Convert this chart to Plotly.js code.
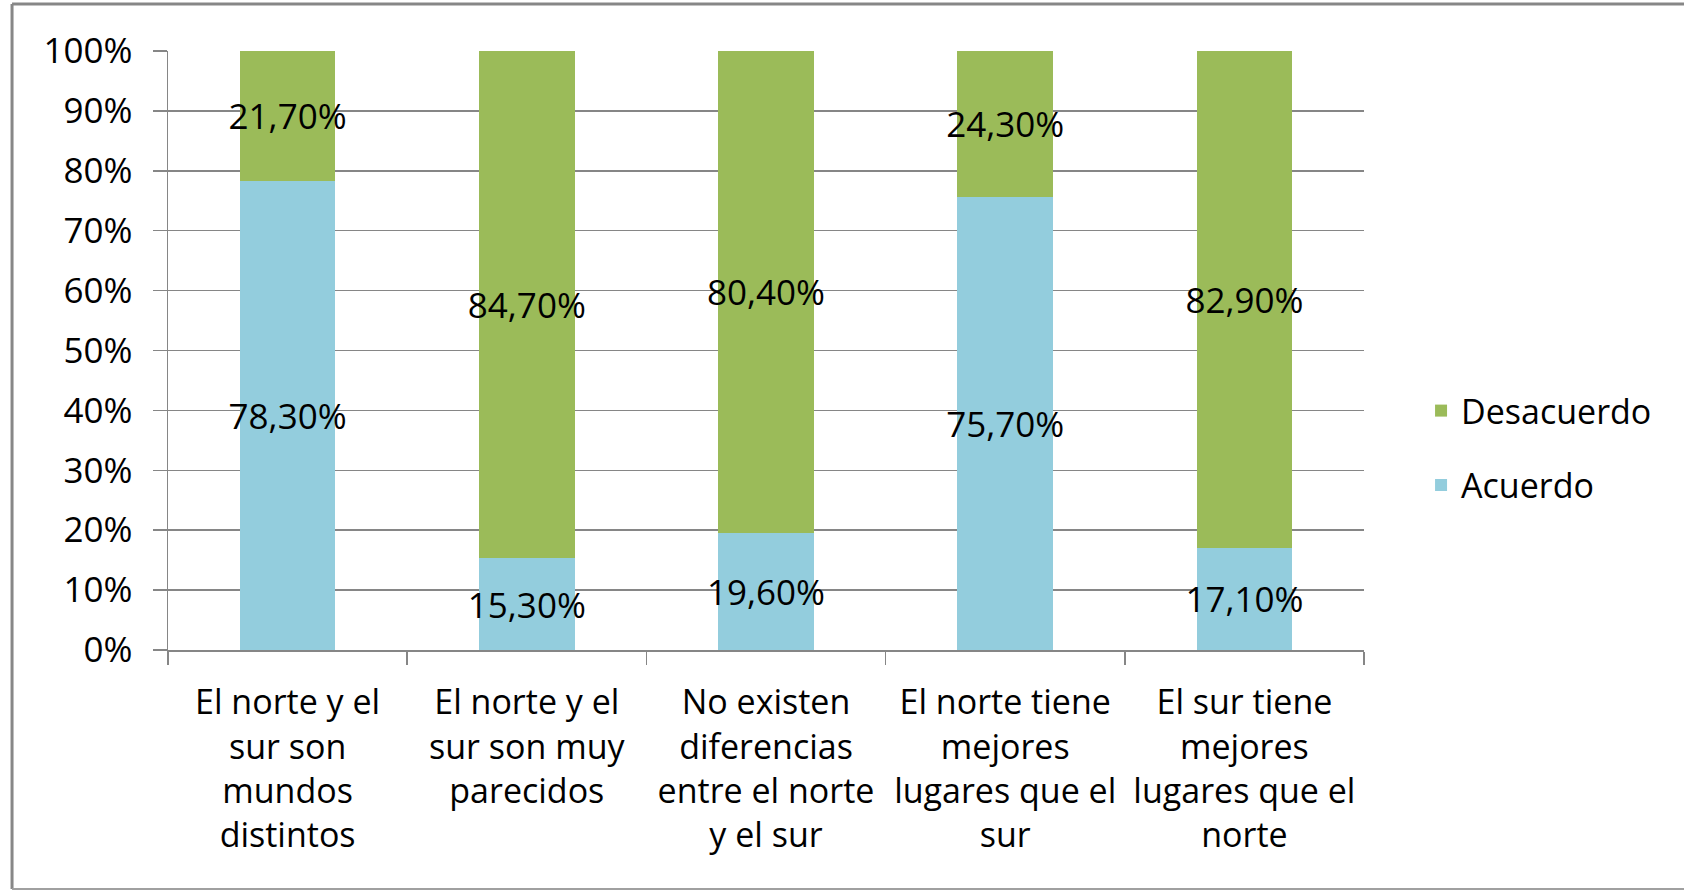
<!DOCTYPE html>
<html>
<head>
<meta charset="utf-8">
<script src="https://cdn.plot.ly/plotly-3.0.1.min.js"></script>
<style>
html,body{margin:0;padding:0;background:#fff;}
#chart{width:1684px;height:891px;}
</style>
</head>
<body>
<div id="chart"></div>
<script>
const categories = [
  "El norte y el<br>sur son<br>mundos<br>distintos",
  "El norte y el<br>sur son muy<br>parecidos",
  "No existen<br>diferencias<br>entre el norte<br>y el sur",
  "El norte tiene<br>mejores<br>lugares que el<br>sur",
  "El sur tiene<br>mejores<br>lugares que el<br>norte"
];
const acuerdo = [78.3, 15.3, 19.6, 75.7, 17.1];
const desacuerdo = [21.7, 84.7, 80.4, 24.3, 82.9];
const yTicks = [0, 10, 20, 30, 40, 50, 60, 70, 80, 90, 100];

const fmt = v => v.toFixed(2).replace('.', ',') + '%';
const FONT = '"Open Sans", "Liberation Sans", sans-serif';
const FS = 35;

const common = {
  type: 'bar',
  x: categories,
  textposition: 'inside',
  insidetextanchor: 'middle',
  constraintext: 'none',
  textangle: 0,
  textfont: {family: FONT, size: FS, color: '#000'},
  hoverinfo: 'skip'
};

const traces = [
  Object.assign({}, common, {
    name: 'Acuerdo', y: acuerdo, text: acuerdo.map(fmt),
    marker: {color: '#93CDDD'}, legend: 'legend2'
  }),
  Object.assign({}, common, {
    name: 'Desacuerdo', y: desacuerdo, text: desacuerdo.map(fmt),
    marker: {color: '#9BBB59'}, legend: 'legend'
  })
];

const layout = {
  width: 1684, height: 891,
  margin: {l: 168, r: 320, t: 51, b: 241, pad: 0},
  paper_bgcolor: '#fff', plot_bgcolor: '#fff',
  font: {family: FONT, size: FS, color: '#000'},
  barmode: 'stack',
  bargap: 0.6,
  xaxis: {
    type: 'category',
    tickson: 'boundaries',
    ticks: 'outside', ticklen: 13, tickcolor: '#868686', tickwidth: 1.5,
    ticklabelstandoff: 22,
    showline: true, linecolor: '#868686', linewidth: 1.5,
    showgrid: false, zeroline: false,
    tickfont: {family: FONT, size: 34, color: '#000'},
    fixedrange: true
  },
  yaxis: {
    range: [0, 100],
    tickvals: yTicks,
    ticktext: yTicks.map(v => v + '%'),
    ticks: 'outside', ticklen: 14, tickcolor: '#868686', tickwidth: 1.5,
    ticklabelstandoff: 13,
    showline: true, linecolor: '#868686', linewidth: 1.5,
    showgrid: true, gridcolor: '#868686', gridwidth: 1.5,
    zeroline: false,
    tickfont: {family: FONT, size: FS, color: '#000'},
    fixedrange: true
  },
  showlegend: true,
  legend: {
    x: 1.0477, y: 0.399, xanchor: 'left', yanchor: 'middle',
    bgcolor: 'rgba(0,0,0,0)', borderwidth: 0,
    font: {family: FONT, size: 34, color: '#000'}
  },
  legend2: {
    x: 1.0477, y: 0.275, xanchor: 'left', yanchor: 'middle',
    bgcolor: 'rgba(0,0,0,0)', borderwidth: 0,
    font: {family: FONT, size: 34, color: '#000'}
  },
  shapes: [
    {type: 'line', xref: 'paper', yref: 'paper', x0: -0.1304, x1: -0.1304, y0: 1.0785, y1: -0.399,
     line: {color: '#878787', width: 3}},
    {type: 'line', xref: 'paper', yref: 'paper', x0: -0.1304, x1: 1.3, y0: 1.0785, y1: 1.0785,
     line: {color: '#878787', width: 3}},
    {type: 'line', xref: 'paper', yref: 'paper', x0: -0.1304, x1: 1.3, y0: -0.399, y1: -0.399,
     line: {color: '#a0a0a0', width: 2}}
  ]
};

Plotly.newPlot('chart', traces, layout, {displayModeBar: false, staticPlot: true});
</script>
</body>
</html>
